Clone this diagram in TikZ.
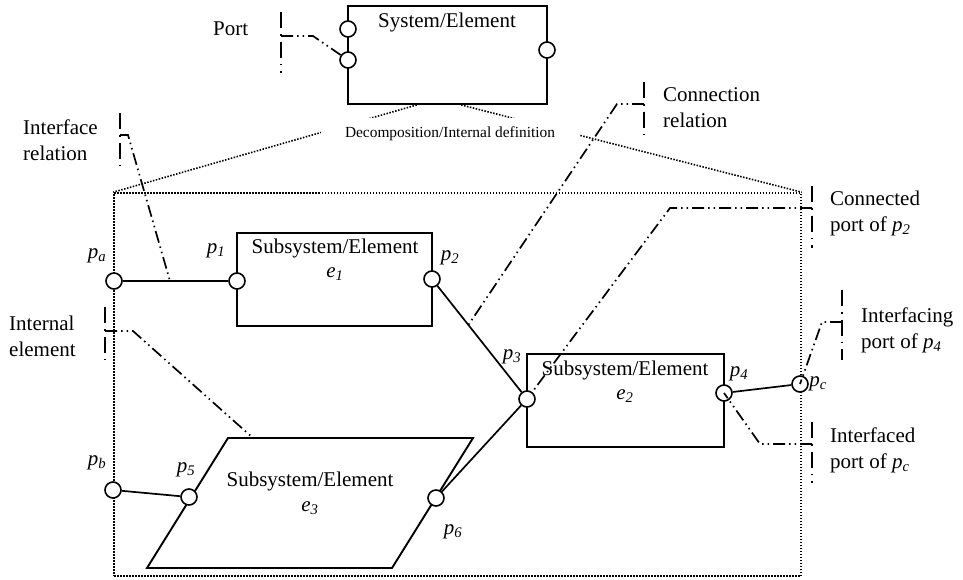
\documentclass[tikz,border=0pt]{standalone}
\usepackage{fontspec}
\setmainfont{Liberation Serif}
\usetikzlibrary{calc}
\newcommand{\plab}[1]{\textit{p}\textsubscript{\textit{#1}}}
\newcommand{\elab}[1]{\textit{e}\textsubscript{\textit{#1}}}
\begin{document}
\begin{tikzpicture}[x=1pt,y=-1pt,
  port/.style={circle, draw, fill=white, line width=1.6pt, minimum size=16pt, inner sep=0pt},
  boxnode/.style={draw, line width=1.9pt, inner sep=0pt},
  wire/.style={line width=1.7pt},
  dotline/.style={line width=1.6pt, dash pattern=on 1.5pt off 1.5pt},
  leader/.style={line width=1.7pt, dash pattern=on 12pt off 4pt on 1.5pt off 4pt on 1.5pt off 4pt},
  bracket/.style={line width=1.7pt, dash pattern=on 16pt off 6pt on 1.5pt off 6pt},
  txt/.style={font=\fontsize{21}{26}\selectfont, inner sep=0pt},
  lbl/.style={font=\fontsize{21}{26}\selectfont, align=left, anchor=west, inner sep=0pt}
]
\useasboundingbox (0,0) rectangle (963,579);

% top system box
\node[boxnode, minimum width=199pt, minimum height=98pt] (sys) at (447.5,55) {};
\node[txt] (systitle) at (447,22) {System/Element};

% inner dotted region
\node[draw, dotline, minimum width=687pt, minimum height=383pt, inner sep=0pt] (inner) at (457.5,384.5) {};
\coordinate (sysL) at ($(sys.south west)!0.347!(sys.south east)$);
\coordinate (sysR) at ($(sys.south west)!0.568!(sys.south east)$);
\draw[dotline] (sysL) -- (inner.north west);
\draw[dotline] (sysR) -- (inner.north east);
\node[fill=white, minimum width=258pt, minimum height=32pt, inner sep=0pt,
      font=\fontsize{15.4}{18}\selectfont] (decomp) at (450,134) {Decomposition/Internal definition};

% subsystem boxes
\node[boxnode, minimum width=195pt, minimum height=93pt] (e1) at (334.5,279.5) {};
\node[txt] (e1t) at (335,248) {Subsystem/Element};
\node[txt] (e1l) at (335,274) {\elab{1}};

\node[boxnode, minimum width=197pt, minimum height=93pt] (e2) at (625.5,400.5) {};
\node[txt] (e2t) at (625,370) {Subsystem/Element};
\node[txt] (e2l) at (625,396) {\elab{2}};

\coordinate (e3a) at (228,438);
\coordinate (e3b) at (473,438);
\coordinate (e3c) at (392,568);
\coordinate (e3d) at (147,568);
\draw[line width=1.9pt] (e3a) -- (e3b) -- (e3c) -- (e3d) -- cycle;
\node[txt] (e3t) at (310,481) {Subsystem/Element};
\node[txt] (e3l) at (310,508) {\elab{3}};

% ports
\node[port] (sp1) at (348,29) {};
\node[port] (sp2) at (348,60) {};
\node[port] (sp3) at (547,50) {};
\node[port] (pa) at (114,281) {};
\node[port] (p1) at (237,281) {};
\node[port] (p2) at (432,279) {};
\node[port] (p3) at (527,399) {};
\node[port] (p4) at (724,393) {};
\node[port] (pc) at (800,384) {};
\node[port] (pb) at (113,490) {};
\node[port] (p5) at (189,497) {};
\node[port] (p6) at (436,498) {};

% wires
\draw[wire] (pa) -- (p1);
\draw[wire] (p2) -- (p3);
\draw[wire] (p3) -- (p6);
\draw[wire] (p4) -- (pc);
\draw[wire] (pb) -- (p5);

% port labels
\node[txt] (lpa) at (97,256) {\plab{a}};
\node[txt] (lp1) at (216,251) {\plab{1}};
\node[txt] (lp2) at (450,258) {\plab{2}};
\node[txt] (lp3) at (512,357) {\plab{3}};
\node[txt] (lp4) at (739,374) {\plab{4}};
\node[txt] (lpc) at (818,384) {\plab{c}};
\node[txt] (lpb) at (97,463) {\plab{b}};
\node[txt] (lp5) at (186,470) {\plab{5}};
\node[txt] (lp6) at (453,532) {\plab{6}};

% callout texts
\node[lbl] (tport) at (213,29) {Port};
\node[lbl] (tif) at (23,140) {Interface\\relation};
\node[lbl] (tie) at (9,336) {Internal\\element};
\node[lbl] (tcr) at (663,108) {Connection\\relation};
\node[lbl] (tcp) at (830,213) {Connected\\port of \plab{2}};
\node[lbl] (tifg) at (861,330) {Interfacing\\port of \plab{4}};
\node[lbl] (tifd) at (830,450) {Interfaced\\port of \plab{c}};

% brackets
\draw[bracket] (281,12) -- (281,73);
\draw[bracket] (120,113) -- (120,165);
\draw[bracket] (105,307) -- (105,360);
\draw[bracket] (644,82) -- (644,134);
\draw[bracket] (812,186) -- (812,248);
\draw[bracket] (842,290) -- (842,360);
\draw[bracket] (812,422) -- (812,483);

% leader lines
\coordinate (kport) at (281,36);
\coordinate (kif) at (120,135);
\coordinate (kie) at (105,331);
\coordinate (kcr) at (644,104);
\coordinate (kcp) at (812,208);
\coordinate (kifg) at (842,322);
\coordinate (kifd) at (812,444);
\coordinate (wif) at ($(pa)!0.455!(p1)$);
\coordinate (wcr) at ($(p2)!0.383!(p3)$);
\coordinate (we3) at (253,438);
\draw[leader] (kport) -- (313,36) -- (sp2);
\draw[leader] (kif) -- (128,135) -- (wif);
\draw[leader] (kie) -- (133,331) -- (we3);
\draw[leader] (kcr) -- (617,104) -- (wcr);
\draw[leader] (kcp) -- (670,208) -- (p3);
\draw[leader] (kifg) -- (822,322) -- (pc.center);
\draw[leader] (kifd) -- (760,444) -- (p4.center);
\end{tikzpicture}
\end{document}
